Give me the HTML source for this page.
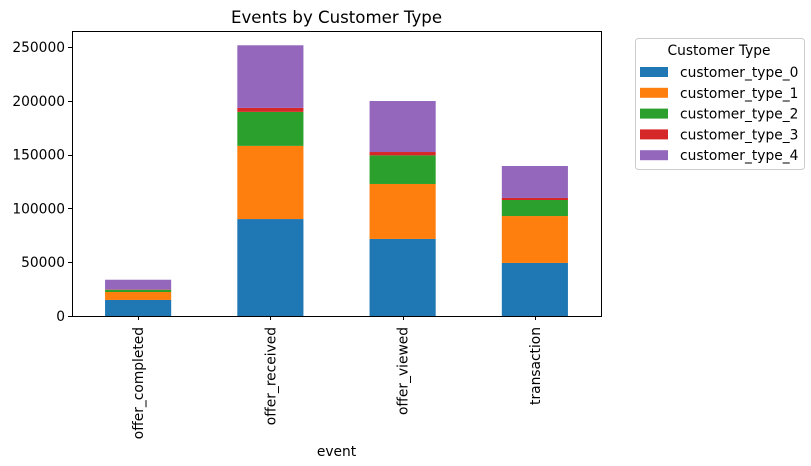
<!DOCTYPE html>
<html><head><meta charset="utf-8"><style>
body{margin:0;background:#fff;}
svg{display:block;font-family:"DejaVu Sans","Liberation Sans",sans-serif;}
</style></head><body>
<svg width="811" height="466" viewBox="0 0 811 466">
<text x="336.5" y="23" font-size="16.6" text-anchor="middle">Events by Customer Type</text>
<g id="plot"></g>
<g id="legend"></g>
</svg>
<script>
const categories = ["offer_completed","offer_received","offer_viewed","transaction"];
const seriesNames = ["customer_type_0","customer_type_1","customer_type_2","customer_type_3","customer_type_4"];
const type0 = [14900, 90100, 71600, 49300];
const type1 = [7400, 68000, 51100, 43600];
const type2 = [2100, 31600, 26600, 14900];
const type3 = [300, 3700, 3100, 1900];
const type4 = [9000, 58200, 47400, 29700];
const yTicks = [0, 50000, 100000, 150000, 200000, 250000];
const colors = ["#1f77b4","#ff7f0e","#2ca02c","#d62728","#9467bd"];
const series = [type0,type1,type2,type3,type4];

const NS="http://www.w3.org/2000/svg";
const L=72,R=601,T=31,B=316;
const y0=316, yPer=269/250000;
const FS=13.8;
function y(v){return y0 - v*yPer;}
const step=(R-L)/categories.length;
function xc(i){return L+step*(i+0.5);}
const bw=step*0.5;
const g=document.getElementById('plot');
function mk(tag,attrs,parent){const e=document.createElementNS(NS,tag);for(const k in attrs)e.setAttribute(k,attrs[k]);(parent||g).appendChild(e);return e;}

categories.forEach((c,i)=>{
  let base=0;
  series.forEach((s,j)=>{
    const v=s[i];
    const r=mk('rect',{x:xc(i)-bw/2,y:y(base+v),width:bw,height:v*yPer,fill:colors[j]});
    
    
    base+=v;
  });
  const xx=Math.round(xc(i))+0.5;
  const tk=mk('line',{x1:xx,x2:xx,y1:B,y2:B+4,stroke:'#000','stroke-width':1});
  
  
  const t=mk('text',{x:0,y:0,'font-size':FS,'text-anchor':'end',transform:`translate(${xc(i)+5},${B+11}) rotate(-90)`});
  t.textContent=c;
  
  
});
yTicks.forEach(v=>{
  const yy=Math.round(y(v))+0.5;
  const tk=mk('line',{x1:L-4,x2:L,y1:yy,y2:yy,stroke:'#000','stroke-width':1});
  
  
  const t=mk('text',{x:L-7,y:y(v)+5,'font-size':FS,'text-anchor':'end'});
  t.textContent=v;
  
  
});
const fr=mk('rect',{x:L+0.5,y:T+0.5,width:R-L,height:B-T,fill:'none',stroke:'#000','stroke-width':1});


const xl=mk('text',{x:(L+R)/2,y:456,'font-size':FS,'text-anchor':'middle'});
xl.textContent='event';



const lg=document.getElementById('legend');


mk('rect',{x:635.5,y:38.5,width:169,height:131,rx:3,fill:'#fff',stroke:'#ccc','stroke-width':1},lg);
const lt=mk('text',{x:719,y:55,'font-size':FS,'text-anchor':'middle'},lg);
lt.textContent='Customer Type';


seriesNames.forEach((n,j)=>{
  const cy=72+j*20.8;
  const p=mk('rect',{x:640,y:cy-5,width:28,height:10,fill:colors[j]},lg);
  
  
  const t=mk('text',{x:680,y:cy+5,'font-size':FS},lg);
  t.textContent=n;
  
  
});
</script>
</body></html>
